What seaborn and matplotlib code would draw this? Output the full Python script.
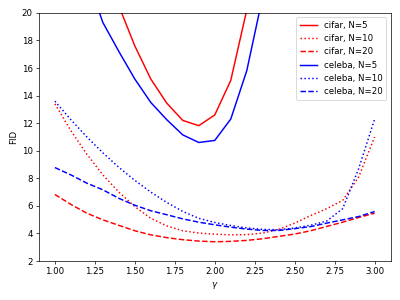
import matplotlib
matplotlib.use("Agg")
import matplotlib.pyplot as plt
import seaborn as sns

gamma = [1.0, 1.1, 1.2, 1.3, 1.4, 1.5, 1.6, 1.7, 1.8, 1.9, 2.0,
         2.1, 2.2, 2.3, 2.4, 2.5, 2.6, 2.7, 2.8, 2.9, 3.0]

# values above 20 are cut off by the y limit in the original
cifar_5 = [45.0, 36.0, 29.5, 24.3, 20.5, 17.6, 15.2, 13.45, 12.2, 11.82, 12.6,
           15.1, 20.2, 28.0, 38.0, 50.0, 64.0, 80.0, 98.0, 118.0, 140.0]
cifar_10 = [13.4, 11.45, 9.75, 8.25, 7.0, 5.95, 5.1, 4.55, 4.2, 4.03, 3.95,
            3.9, 3.92, 4.03, 4.3, 4.75, 5.3, 5.8, 6.4, 8.1, 11.0]
cifar_20 = [6.83, 6.11, 5.47, 4.99, 4.59, 4.2, 3.9, 3.7, 3.55, 3.45, 3.4,
            3.43, 3.5, 3.62, 3.79, 3.96, 4.2, 4.51, 4.82, 5.16, 5.47]
celeba_5 = [30.0, 26.0, 22.6, 19.3, 17.2, 15.2, 13.5, 12.25, 11.15, 10.6, 10.75,
            12.3, 15.8, 21.2, 29.0, 39.0, 51.0, 65.0, 81.0, 99.0, 120.0]
celeba_10 = [13.6, 12.25, 11.0, 9.85, 8.8, 7.85, 7.0, 6.25, 5.6, 5.1, 4.8,
             4.58, 4.4, 4.3, 4.27, 4.4, 4.6, 4.9, 5.8, 8.7, 12.3]
celeba_20 = [8.78, 8.25, 7.65, 7.17, 6.55, 6.05, 5.65, 5.36, 5.06, 4.82, 4.63,
             4.46, 4.32, 4.22, 4.22, 4.35, 4.5, 4.75, 4.99, 5.23, 5.59]

series = [
    ("cifar, N=5", cifar_5, "red", "-"),
    ("cifar, N=10", cifar_10, "red", ":"),
    ("cifar, N=20", cifar_20, "red", "--"),
    ("celeba, N=5", celeba_5, "blue", "-"),
    ("celeba, N=10", celeba_10, "blue", ":"),
    ("celeba, N=20", celeba_20, "blue", "--"),
]

fig, ax = plt.subplots(figsize=(6.4, 4.8), dpi=62.5)
for label, vals, color, ls in series:
    sns.lineplot(x=gamma, y=vals, color=color, linestyle=ls, linewidth=1.7,
                 label=label, ax=ax)

ax.set_ylim(2, 20)
ax.set_yticks(range(2, 21, 2))
ax.set_xlabel(r"$\gamma$")
ax.set_ylabel("FID")
ax.legend(loc="upper right")
fig.tight_layout()
fig.savefig("out.png", dpi=62.5)
